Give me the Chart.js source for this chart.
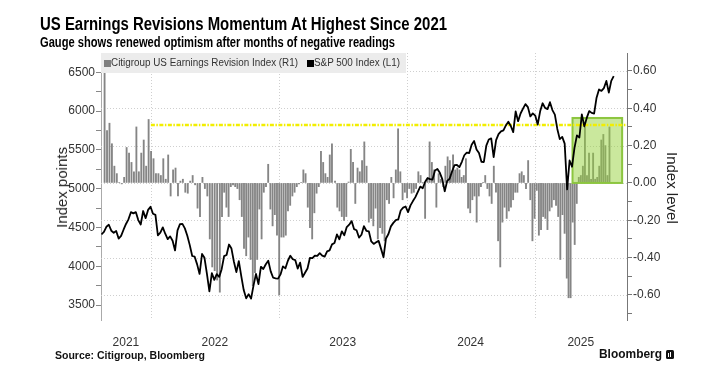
<!DOCTYPE html>
<html><head><meta charset="utf-8">
<script src="https://cdn.jsdelivr.net/npm/chart.js@4.4.1/dist/chart.umd.min.js"></script>
<style>
body{margin:0;width:709px;height:378px;overflow:hidden;background:#fff;position:relative;font-family:'Liberation Sans',Arial,sans-serif;}
#c{position:absolute;left:0;top:0;}
.t{position:absolute;white-space:nowrap;transform-origin:0 0;}
.v{position:absolute;white-space:nowrap;writing-mode:vertical-rl;font:normal 15px/15px 'Liberation Sans',Arial,sans-serif;color:#222;}
#legend{position:absolute;left:101px;top:53px;width:305px;height:20px;background:#ececec;font:10px/20px 'Liberation Sans',Arial,sans-serif;color:#333;}
#legend .sq{position:absolute;top:7px;width:7px;height:7px;}
#legend .lt{position:absolute;top:0;white-space:nowrap;transform-origin:0 0;}
</style></head><body>
<canvas id="c" width="709" height="378"></canvas>
<div class="t fit" data-w="407" style="left:40px;top:15px;font:bold 18px/18px 'Liberation Sans',Arial,sans-serif;color:#000">US Earnings Revisions Momentum At Highest Since 2021</div>
<div class="t fit" data-w="355" style="left:40px;top:35px;font:bold 14px/14px 'Liberation Sans',Arial,sans-serif;color:#000">Gauge shows renewed optimism after months of negative readings</div>
<div id="legend">
  <span class="sq" style="left:3px;background:#7f7f7f"></span><span class="lt fit" data-w="187" style="left:10px">Citigroup US Earnings Revision Index (R1)</span>
  <span class="sq" style="left:206px;background:#000"></span><span class="lt fit" data-w="86" style="left:213px">S&amp;P 500 Index (L1)</span>
</div>
<div class="v" style="left:54px;top:147px;transform:rotate(180deg)">Index points</div>
<div class="v" style="left:665px;top:152px">Index level</div>
<div class="t fit" data-w="150" style="left:55px;top:350px;font:bold 10.5px/11px 'Liberation Sans',Arial,sans-serif;color:#111">Source: Citigroup, Bloomberg</div>
<div class="t fit" data-w="63" style="left:599px;top:348px;font:bold 12.5px/13px 'Liberation Sans',Arial,sans-serif;color:#111">Bloomberg</div>
<div class="t" style="left:666px;top:350px;width:8px;height:9px;background:#111;border-radius:1.5px"><span style="position:absolute;left:2px;top:3px;width:1px;height:4px;background:#fff"></span><span style="position:absolute;left:4px;top:2px;width:1px;height:5px;background:#fff"></span></div>
<script>
// ---------- data ----------
const spxStart = '2021-08-13'; // weekly closes from this date
const spxWeekly = [
 4410,4442,4509,4535,4458,4432,4455,4357,4391,4471,4545,4605,4697,4682,4698,4595,4538,4712,4620,4726,4766,
 4677,4662,4398,4432,4501,4419,4349,4385,4329,4204,4463,4543,4546,4488,4393,4272,4132,4123,4024,3901,4158,4109,3901,3675,3912,3825,3899,3863,3962,4130,4145,4280,4228,4058,3924,4067,3873,3693,3586,3640,3583,3753,3901,3771,3993,3965,4026,4072,3934,3852,3845,3840,
 3895,3999,3973,4071,4136,4090,4079,3970,4046,3862,3917,3971,4109,4105,4138,4133,4169,4136,4124,4192,4205,4282,4299,4410,4348,4450,4399,4505,4536,4582,4478,4464,4370,4406,4516,4457,4450,4320,4288,4308,4327,4224,4117,4358,4415,4514,4559,4595,4604,4719,4755,4770,
 4697,4784,4840,4891,4959,5027,5006,5089,5137,5124,5117,5234,5254,5204,5123,4967,5100,5128,5223,5303,5305,5278,5347,5431,5465,5460,5567,5615,5505,5459,5347,5344,5554,5634,5648,5408,5626,5703,5738,5751,5815,5864,5808,5729,5996,5870,5969,6032,6090,6051,5931,5971,
 5942,5827,5997,6101,6041,6026,6115,6013,5955,5770,5639,5668,5581,4990,5363,5283,5525,5687,5660,5958,5803,5912,6000,5977,5968,6173,6279,6260,6297,6389,6238,6389,6450
];
const eriValues = [
 0.60,0.28,0.32,0.21,0.09,0.05,0.003,-0.005,0.03,0.19,0.16,0.11,0.06,0.30,0.06,0.16,0.23,0.09,0.34,0.17,0.13,0.05,0.05,0.04,0.13,0.02,0.15,-0.07,0.07,0.08,-0.07,0.01,0.02,-0.05,-0.055,0.01,0.04,-0.01,-0.135,-0.18,0.03,-0.03,-0.07,-0.30,-0.45,-0.47,-0.52,
 -0.585,-0.18,-0.05,-0.13,-0.18,-0.02,-0.01,-0.02,-0.03,-0.09,-0.18,-0.35,-0.39,-0.29,-0.41,-0.55,-0.48,-0.41,-0.14,-0.30,-0.05,-0.02,0.10,-0.14,-0.23,-0.17,-0.28,-0.60,-0.29,-0.29,-0.28,-0.15,-0.12,-0.07,-0.05,-0.02,-0.005,0.003,0.07,0.05,-0.13,-0.24,-0.30,-0.16,-0.055,-0.02,0.17,0.11,0.05,0.03,0.15,0.21,
 0.01,-0.13,-0.15,-0.18,-0.20,-0.18,0.005,0.18,0.11,-0.11,0.08,0.06,0.12,0.22,0.09,-0.21,-0.19,-0.23,-0.135,-0.30,-0.24,-0.27,-0.31,-0.09,-0.11,0.03,-0.08,0.07,0.29,0.06,-0.09,-0.05,-0.08,-0.03,-0.055,-0.05,-0.03,0.06,0.04,0.003,-0.19,0.02,0.22,0.11,0.07,-0.13,0.05,0.02,-0.02,0.09,0.14,0.12,
 0.04,0.15,0.07,0.08,0.07,0.03,0.04,0.13,-0.135,-0.16,-0.09,-0.07,-0.21,-0.07,-0.02,0.003,0.04,-0.03,-0.07,-0.11,0.09,-0.05,-0.31,-0.45,-0.21,-0.13,-0.19,-0.15,-0.13,-0.09,-0.05,-0.05,0.05,0.06,0.04,-0.03,0.12,-0.09,-0.31,-0.19,-0.04,-0.28,-0.25,-0.18,-0.19,-0.25,-0.15,-0.13,-0.09,-0.12,-0.18,-0.41,-0.17,-0.27,-0.51,
 -0.615,-0.615,-0.21,-0.33,-0.11,0.03,0.04,0.09,0.30,0.04,0.16,0.02,0.16,0.02,0.03,0.09,0.23,0.26,0.20,0.04,0.30
];
const eriAnchors = [[0,2021.638],[46,2022.518],[47,2022.539],[98,2023.416],[99,2023.440],[150,2024.338],[151,2024.346],[205,2025.252],[206,2025.266],[226,2025.586]];
const yearLines = [2022, 2023, 2024, 2025];
const xRange = [2021.61, 2025.723];
const leftRange = [3307, 6749];
const leftTicks = [3500, 4000, 4500, 5000, 5500, 6000, 6500];
const rightRange = [-0.734, 0.696];
const rightGrid = [-0.6, -0.4, -0.2, 0, 0.2, 0.4, 0.6];
const markerLevel = 0.31, markerFrom = 2022.0;
const highlightBox = {x0: 2025.297, x1: 2025.685, y0: 0, y1: 0.348};

// ---------- helpers ----------
function decYear(ms){ const d=new Date(ms); const y=d.getUTCFullYear(); const a=Date.UTC(y,0,1), b=Date.UTC(y+1,0,1); return y+(ms-a)/(b-a); }
const startMs = Date.parse(spxStart+'T00:00:00Z');
const spxData = spxWeekly.map((v,i)=>({x: decYear(startMs + i*7*86400000), y: v}));
function eriX(i){ for(let k=0;k<eriAnchors.length-1;k++){ const [i0,x0]=eriAnchors[k],[i1,x1]=eriAnchors[k+1]; if(i>=i0&&i<=i1) return x0+(x1-x0)*(i-i0)/(i1-i0);} return eriAnchors[eriAnchors.length-1][1]; }
const eriData = eriValues.map((v,i)=>({x: eriX(i), y: v}));
const labelPos = [(xRange[0]+2022)/2, 2022.5, 2023.5, 2024.5, (2025+xRange[1])/2];

document.querySelectorAll('.fit').forEach(el=>{ const w=el.getBoundingClientRect().width; const t=+el.dataset.w; el.style.transform='scaleX('+(t/w)+')'; });

const deco = {
  id:'deco',
  beforeDatasetsDraw(chart){
    const {ctx, chartArea:a, scales} = chart;
    ctx.save(); ctx.strokeStyle='#cfcfcf'; ctx.lineWidth=1; ctx.setLineDash([1,2]);
    for(const v of rightGrid){ const y=Math.round(scales.yR.getPixelForValue(v))+0.5; ctx.beginPath(); ctx.moveTo(a.left,y); ctx.lineTo(a.right,y); ctx.stroke(); }
    for(const v of yearLines){ const x=Math.round(scales.x.getPixelForValue(v))+0.5; ctx.beginPath(); ctx.moveTo(x,a.top); ctx.lineTo(x,a.bottom); ctx.stroke(); }
    ctx.restore();
  },
  afterDatasetDraw(chart,args){
    if(args.meta.type!=='bar') return;
    const {ctx, chartArea:a, scales} = chart;
    const X=scales.x, Y=scales.yR;
    ctx.save();
    const bx0=X.getPixelForValue(highlightBox.x0), bx1=X.getPixelForValue(highlightBox.x1);
    const by0=Y.getPixelForValue(highlightBox.y1), by1=Y.getPixelForValue(highlightBox.y0);
    ctx.fillStyle='rgba(150,210,60,0.5)'; ctx.fillRect(bx0,by0,bx1-bx0,by1-by0);
    ctx.strokeStyle='#8cc63f'; ctx.lineWidth=2; ctx.strokeRect(bx0,by0,bx1-bx0,by1-by0);
    const yy=Y.getPixelForValue(markerLevel);
    ctx.strokeStyle='#f2ee00'; ctx.lineWidth=2.5; ctx.setLineDash([4,1.5,1.5,1.5]);
    ctx.beginPath(); ctx.moveTo(X.getPixelForValue(markerFrom),yy); ctx.lineTo(a.right,yy); ctx.stroke();
    ctx.restore();
  }
};

const chart = new Chart(document.getElementById('c'), {
  type:'bar',
  data:{ datasets:[
    {type:'bar', label:'Citigroup US Earnings Revision Index (R1)', data:eriData, yAxisID:'yR', xAxisID:'x', backgroundColor:'#858585', borderWidth:0, barThickness:1.2, order:2},
    {type:'line', label:'S&P 500 Index (L1)', data:spxData, yAxisID:'yL', xAxisID:'x', borderColor:'#000', borderWidth:1.8, pointRadius:0, tension:0, borderJoinStyle:'round', order:1}
  ]},
  options:{
    responsive:false, animation:false, devicePixelRatio:1,
    layout:{padding:{left:0,right:0,top:53,bottom:0}},
    plugins:{legend:{display:false}, tooltip:{enabled:false}},
    scales:{
      x:{type:'linear', position:'bottom', min:xRange[0], max:xRange[1], offset:false,
         grid:{display:false, drawTicks:false}, border:{display:false},
         afterBuildTicks:s=>{ s.ticks = labelPos.map(v=>({value:v})); },
         ticks:{callback:v=>String(Math.floor(v)), font:{size:12, family:"'Liberation Sans', Arial"}, color:'#333', padding:15, maxRotation:0, autoSkip:false},
         afterFit:s=>{ s.height = 58; }},
      yL:{type:'linear', position:'left', min:leftRange[0], max:leftRange[1],
         afterBuildTicks:s=>{ const t=[]; for(let v=3250; v<=6750; v+=250){ if(v>=leftRange[0]&&v<=leftRange[1]) t.push({value:v}); } s.ticks=t; },
         ticks:{autoSkip:false, callback:v=> (leftTicks.includes(v)? String(v):''), font:{size:12, family:"'Liberation Sans', Arial"}, color:'#333', padding:1},
         grid:{drawOnChartArea:false, drawTicks:true, tickLength:5, tickColor:'#888'},
         border:{color:'#aaa'},
         afterFit:s=>{ s.width = 101; }},
      yR:{type:'linear', position:'right', min:rightRange[0], max:rightRange[1],
         ticks:{stepSize:0.1, includeBounds:false, callback:v=>{ const k=Math.round(v*10); return k%2===0 ? (k/10).toFixed(2) : ''; }, font:{size:12, family:"'Liberation Sans', Arial"}, color:'#333', padding:1},
         grid:{drawOnChartArea:false, drawTicks:true, tickLength:5, tickColor:'#777'},
         border:{color:'#777'},
         afterFit:s=>{ s.width = 82; }}
    }
  },
  plugins:[deco]
});
</script>
</body></html>
